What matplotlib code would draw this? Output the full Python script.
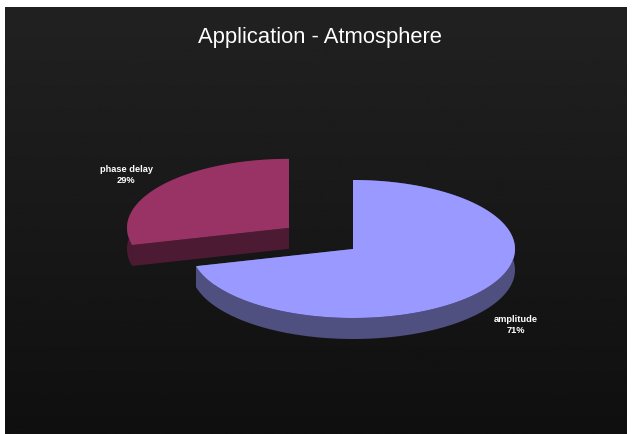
import matplotlib
matplotlib.use("Agg")
import matplotlib.pyplot as plt
from matplotlib.patches import Polygon
import numpy as np

labels = ["amplitude", "phase delay"]
values = [71, 29]
top_colors = ["#9999ff", "#993366"]
side_colors = ["#4f4f80", "#4d1a33"]
exploded = [0.0, 0.5]

title = "Application - Atmosphere"

# pie geometry in pixel units
cx, cy = 353, 250
rx, ry = 162, 69
depth = 21
label_dist = 1.27

W, H = 632, 435
fig = plt.figure(figsize=(W / 100, H / 100), dpi=100)
fig.patch.set_facecolor("white")
ax = fig.add_axes([0, 0, 1, 1])
ax.set_xlim(0, W)
ax.set_ylim(H, 0)
ax.axis("off")

# dark vertical gradient panel
grad = np.linspace(0.13, 0.06, 256).reshape(-1, 1)
ax.imshow(grad, cmap="gray", vmin=0, vmax=1, aspect="auto",
          extent=[5, 627, H, 8], zorder=0)

ax.text(320, 43, title, color="white", fontsize=15.8, ha="center",
        va="baseline", family=["Liberation Sans", "DejaVu Sans"], zorder=10)


def pt(ox, oy, th, dz=0.0):
    return ox + rx * np.cos(th), oy - ry * np.sin(th) + dz


# angles in degrees, counterclockwise, first slice starts at 12 o'clock going clockwise
total = float(sum(values))
start = 90.0
slices = []
for i, v in enumerate(values):
    sweep = 360.0 * v / total
    th1, th2 = start - sweep, start
    start = th1
    slices.append((th1, th2))

# draw back slices first (those whose offset goes up the screen)
order = sorted(range(len(values)),
               key=lambda i: np.sin(np.radians((slices[i][0] + slices[i][1]) / 2)) * exploded[i],
               reverse=True)

for i in order:
    th1, th2 = np.radians(slices[i])
    mid = (th1 + th2) / 2
    ox = cx + exploded[i] * rx * np.cos(mid)
    oy = cy - exploded[i] * ry * np.sin(mid)
    ts = np.linspace(th1, th2, 200)
    xs, ys = pt(ox, oy, ts)

    # outer wall
    wall = np.column_stack([np.r_[xs, xs[::-1]], np.r_[ys, ys[::-1] + depth]])
    ax.add_patch(Polygon(wall, closed=True, fc=side_colors[i], ec="none", zorder=2))
    # radial walls
    for th in (th1, th2):
        ex, ey = pt(ox, oy, th)
        face = [(ox, oy), (ex, ey), (ex, ey + depth), (ox, oy + depth)]
        ax.add_patch(Polygon(face, closed=True, fc=side_colors[i], ec="none", zorder=2))
    # top surface
    top = np.column_stack([np.r_[ox, xs], np.r_[oy, ys]])
    ax.add_patch(Polygon(top, closed=True, fc=top_colors[i], ec="none", zorder=3))

    # label
    lx = ox + label_dist * rx * np.cos(mid)
    ly = oy - label_dist * ry * np.sin(mid)
    if np.sin(mid) < 0:
        ly += depth
    pct = "{:.0f}%".format(100 * values[i] / total)
    ax.text(lx, ly, labels[i] + "\n" + pct, color="white", fontsize=6.7,
            fontweight="bold", ha="center", va="center", linespacing=1.25,
            family=["Liberation Sans", "DejaVu Sans"], zorder=10)

fig.savefig("out.png", dpi=100)
